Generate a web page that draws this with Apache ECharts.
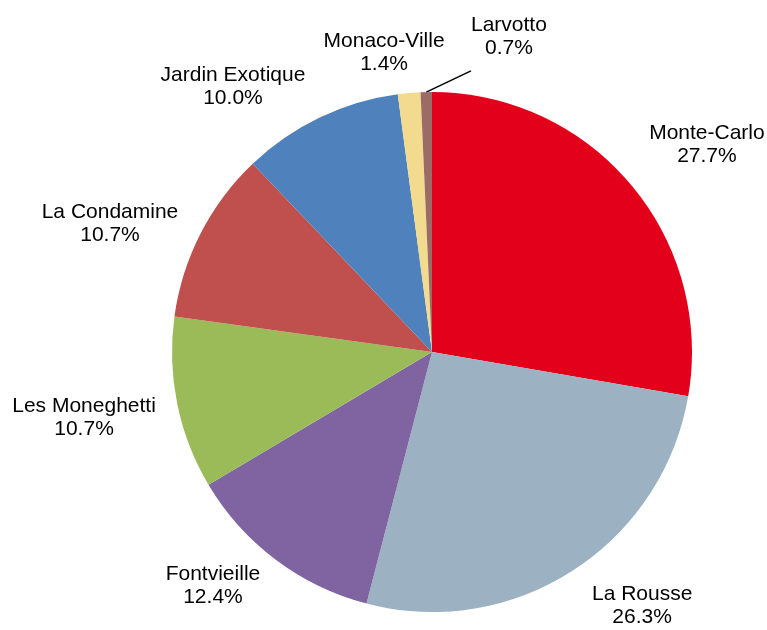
<!DOCTYPE html>
<html>
<head>
<meta charset="utf-8">
<script src="https://cdn.jsdelivr.net/npm/echarts@6/dist/echarts.min.js"></script>
<style>
html,body{margin:0;padding:0;background:#fff;}
#chart{width:767px;height:630px;}
</style>
</head>
<body>
<div id="chart"></div>
<script>
// Data
var districts = ['Monte-Carlo','La Rousse','Fontvieille','Les Moneghetti','La Condamine','Jardin Exotique','Monaco-Ville','Larvotto'];
var shares = [27.7, 26.3, 12.4, 10.7, 10.7, 10.0, 1.4, 0.7];

// Styles
var sliceColors = ['#E2001A','#9CB1C2','#8064A2','#9BBB59','#C0504D','#4F81BD','#F2DB8E','#9C6B65'];
// Label placement in polar terms relative to the pie: [angle clockwise from top (deg), distance / radius]
var labelPolar = [[53.0,1.324],[140.4,1.268],[223.1,1.233],[259.3,1.362],[291.7,1.333],[323.1,1.275],[350.9,1.165],[15.3,1.121]];
var LEADER_INDEX = 7; // the small slice whose label uses a leader line

var CX = 432, CY = 352, R = 260;

var chart = echarts.init(document.getElementById('chart'));
chart.setOption({
  animation: false,
  backgroundColor: '#fff',
  series: [{
    type: 'pie',
    center: [CX, CY],
    radius: R,
    startAngle: 90,
    clockwise: true,
    avoidLabelOverlap: false,
    silent: true,
    itemStyle: { borderWidth: 0 },
    label: {
      show: true,
      position: 'outside',
      color: '#000',
      fontFamily: 'Liberation Sans, Arial, sans-serif',
      fontSize: 21,
      lineHeight: 23,
      formatter: function (p) {
        var s = p.name + '\n' + p.value.toFixed(1) + '%';
        // extra blank lines extend the label box so the leader line meets it lower down
        if (p.dataIndex === LEADER_INDEX) s += '\n \n \n ';
        return s;
      }
    },
    labelLine: { show: false },
    labelLayout: function (params) {
      var lp = labelPolar[params.dataIndex];
      var a = lp[0] * Math.PI / 180;
      var d = lp[1] * R;
      return {
        x: CX + d * Math.sin(a),
        y: CY - d * Math.cos(a),
        align: 'center',
        verticalAlign: 'middle'
      };
    },
    data: districts.map(function (n, i) {
      var item = { name: n, value: shares[i], itemStyle: { color: sliceColors[i] } };
      if (i === LEADER_INDEX) {
        item.labelLine = { show: true, length: 0, length2: 0, lineStyle: { color: '#000', width: 1.5 } };
      }
      return item;
    })
  }]
});
</script>
</body>
</html>
